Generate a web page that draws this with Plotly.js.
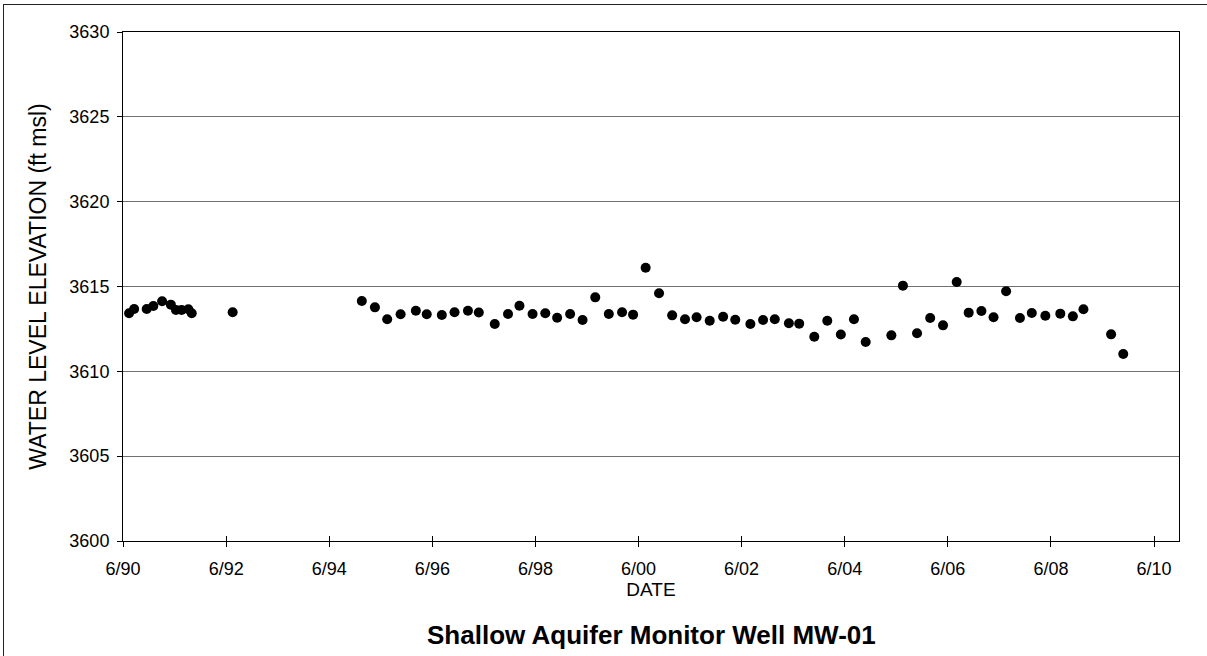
<!DOCTYPE html>
<html>
<head>
<meta charset="utf-8">
<script src="https://cdn.plot.ly/plotly-3.0.1.min.js"></script>
<style>
  html, body { margin: 0; padding: 0; background: #ffffff; }
  #chart { width: 1207px; height: 656px; }
  #frame { position: absolute; left: 3px; top: 4px; width: 1210px; height: 660px; border-left: 1.5px solid #222; border-top: 1.5px solid #222; pointer-events: none; }
</style>
</head>
<body>
<div id="chart"></div>
<div id="frame"></div>
<script>
// Sample dates
const dates = [
  '1990-07-14','1990-08-19','1990-11-16','1991-01-02','1991-03-05','1991-05-06','1991-06-11','1991-07-21','1991-09-07','1991-10-01',
  '1992-07-17',
  '1995-01-18','1995-04-21','1995-07-17','1995-10-20',
  '1996-02-05','1996-04-22','1996-08-07','1996-11-05',
  '1997-02-08','1997-04-26','1997-08-17','1997-11-19',
  '1998-02-08','1998-05-12','1998-08-10','1998-11-02',
  '1999-02-02','1999-05-01','1999-07-30','1999-11-03',
  '2000-02-05','2000-04-23','2000-07-21','2000-10-24',
  '2001-01-25','2001-04-26','2001-07-17','2001-10-18',
  '2002-01-21','2002-04-17','2002-08-02','2002-10-31',
  '2003-01-22','2003-05-02','2003-07-14','2003-10-29',
  '2004-01-29','2004-05-04','2004-08-05','2004-10-27',
  '2005-04-27','2005-07-18','2005-10-26',
  '2006-01-27','2006-04-28','2006-08-03','2006-10-27',
  '2007-01-25','2007-04-21','2007-07-19','2007-10-25',
  '2008-01-17','2008-04-22','2008-08-06','2008-11-03',
  '2009-01-17','2009-08-01','2009-10-26'
];

// Water level elevation (ft msl)
const elevations = [
  3613.42, 3613.67, 3613.67, 3613.85, 3614.13, 3613.93, 3613.62, 3613.62, 3613.66, 3613.42,
  3613.48,
  3614.15, 3613.77, 3613.07, 3613.36,
  3613.57, 3613.36, 3613.32, 3613.48,
  3613.57, 3613.47, 3612.79, 3613.38,
  3613.87, 3613.38, 3613.42, 3613.16,
  3613.38, 3613.03, 3614.36, 3613.38,
  3613.48, 3613.34, 3616.11, 3614.60,
  3613.30, 3613.07, 3613.19, 3612.98,
  3613.22, 3613.04, 3612.79, 3613.03,
  3613.07, 3612.83, 3612.81, 3612.04,
  3612.98, 3612.17, 3613.07, 3611.73,
  3612.12, 3615.05, 3612.24,
  3613.14, 3612.71, 3615.27, 3613.46,
  3613.56, 3613.19, 3614.72, 3613.14,
  3613.44, 3613.28, 3613.40, 3613.24,
  3613.66, 3612.18, 3611.02
];

// Axis ticks
const xTickVals = ['1990-06-01','1992-06-01','1994-06-01','1996-06-01','1998-06-01','2000-06-01','2002-06-01','2004-06-01','2006-06-01','2008-06-01','2010-06-01'];
const xTickText = ['6/90','6/92','6/94','6/96','6/98','6/00','6/02','6/04','6/06','6/08','6/10'];
const yTickVals = [3600, 3605, 3610, 3615, 3620, 3625, 3630];
const xRange = ['1990-06-01', '2010-11-25'];

const FONT = 'Arial, "Liberation Sans", sans-serif';

const trace = {
  type: 'scatter',
  mode: 'markers',
  x: dates,
  y: elevations,
  marker: { color: '#000000', size: 10, line: { width: 0 } },
  hoverinfo: 'x+y'
};

const layout = {
  width: 1207,
  height: 656,
  margin: { l: 123, r: 28, t: 32, b: 115 },
  paper_bgcolor: '#ffffff',
  plot_bgcolor: '#ffffff',
  showlegend: false,
  font: { family: FONT, color: '#000000', size: 18 },
  xaxis: {
    type: 'date',
    range: xRange,
    tickmode: 'array',
    tickvals: xTickVals,
    ticktext: xTickText,
    ticks: 'outside',
    ticklen: 5,
    tickcolor: '#000000',
    ticklabelstandoff: 6,
    showgrid: false,
    zeroline: false,
    showline: true,
    linecolor: '#000000',
    linewidth: 1,
    mirror: true,
    tickfont: { family: FONT, size: 18, color: '#000000' },
    title: { text: 'DATE', font: { family: FONT, size: 19, color: '#000000' }, standoff: 2 }
  },
  xaxis2: {
    type: 'date',
    overlaying: 'x',
    matches: 'x',
    range: xRange,
    tickmode: 'array',
    tickvals: xTickVals,
    ticks: 'inside',
    ticklen: 5,
    tickcolor: '#000000',
    showticklabels: false,
    showgrid: false,
    zeroline: false,
    showline: false
  },
  yaxis: {
    range: [3600, 3630],
    tickmode: 'array',
    tickvals: yTickVals,
    ticks: 'outside',
    ticklen: 5,
    tickcolor: '#000000',
    ticklabelstandoff: 4,
    showgrid: true,
    gridcolor: '#707070',
    gridwidth: 1,
    zeroline: false,
    showline: true,
    linecolor: '#000000',
    linewidth: 1,
    mirror: true,
    tickfont: { family: FONT, size: 18, color: '#000000' },
    title: { text: 'WATER LEVEL ELEVATION (ft msl)', font: { family: FONT, size: 23, color: '#000000' }, standoff: 16 }
  },
  annotations: [{
    text: '<b>Shallow Aquifer Monitor Well MW-01</b>',
    xref: 'paper', yref: 'paper',
    x: 0.5, y: -0.184,
    xanchor: 'center', yanchor: 'middle',
    showarrow: false,
    font: { family: FONT, size: 26, color: '#000000' }
  }]
};

const inside = { type: 'scatter', mode: 'markers', x: [], y: [], xaxis: 'x2', yaxis: 'y', hoverinfo: 'skip', showlegend: false };

Plotly.newPlot('chart', [trace, inside], layout, { displayModeBar: false, staticPlot: true });
</script>
</body>
</html>
